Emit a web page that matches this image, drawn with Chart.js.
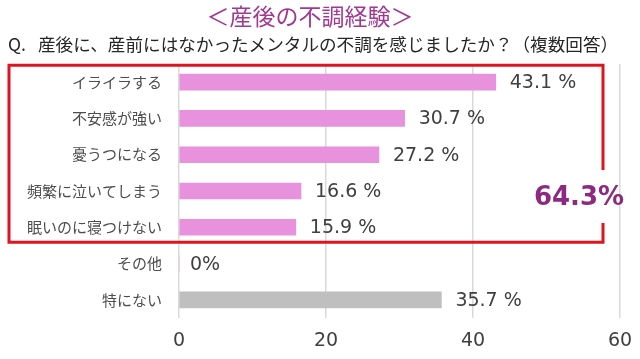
<!DOCTYPE html>
<html><head><meta charset="utf-8">
<script src="https://cdn.jsdelivr.net/npm/chart.js@4"></script>
<style>html,body{margin:0;padding:0;background:#fff}#wrap{width:640px;height:359px;position:relative}</style>
</head><body><div id="wrap"><canvas id="c" width="640" height="359"></canvas></div>
<script>
const titleText = "＜産後の不調経験＞";
const subtitlePrefix = "Q.";
const subtitleText = "産後に、産前にはなかったメンタルの不調を感じましたか？（複数回答）";
const categories = ["イライラする","不安感が強い","憂うつになる","頻繁に泣いてしまう","眠いのに寝つけない","その他","特にない"];
const values = [43.1, 30.7, 27.2, 16.6, 15.9, 0, 35.7];
const valueLabels = ["43.1 %","30.7 %","27.2 %","16.6 %","15.9 %","0%","35.7 %"];
const barColors = ["#e891dd","#e891dd","#e891dd","#e891dd","#e891dd","#e891dd","#bfbfbf"];
const xTicks = [0, 20, 40, 60];
const totalLabel = "64.3%";

const JP = '"Noto Sans CJK JP", "Noto Sans", sans-serif';

const deco = {
  id: 'deco',
  afterDatasetsDraw(chart) {
    const ctx = chart.ctx, x = chart.scales.x, y = chart.scales.y, ca = chart.chartArea;
    ctx.save();
    // value labels
    ctx.font = '19px "DejaVu Sans", sans-serif';
    ctx.fillStyle = '#404040';
    ctx.textBaseline = 'middle';
    ctx.textAlign = 'left';
    values.forEach((v, i) => {
      const off = v === 0 ? 11 : 14;
      ctx.fillText(valueLabels[i], x.getPixelForValue(v) + off, y.getPixelForValue(i) + 1);
    });
    // red box
    const top = y.getPixelForValue(0) - 17;
    const bot = y.getPixelForValue(4) + 15;
    const left = 9;
    const right = ca.right - 17;
    ctx.strokeStyle = '#e0141e';
    ctx.lineWidth = 3;
    ctx.beginPath();
    ctx.moveTo(right, 170);
    ctx.lineTo(right, top);
    ctx.lineTo(left, top);
    ctx.lineTo(left, bot);
    ctx.lineTo(right, bot);
    ctx.lineTo(right, 223);
    ctx.stroke();
    // total label
    ctx.font = 'bold 26px "DejaVu Sans", sans-serif';
    ctx.fillStyle = '#8c2a82';
    ctx.textAlign = 'center';
    ctx.fillText(totalLabel, 579, 198);
    // titles
    ctx.font = '23px ' + JP;
    ctx.fillStyle = '#a23894';
    ctx.textAlign = 'center';
    ctx.fillText(titleText, 310, 16);
    ctx.font = '17.6px ' + JP;
    ctx.fillStyle = '#262626';
    ctx.textAlign = 'left';
    ctx.fillText(subtitlePrefix, 8, 44);
    ctx.fillText(subtitleText, 38, 44);
    ctx.restore();
  }
};

new Chart(document.getElementById('c'), {
  type: 'bar',
  data: {
    labels: categories,
    datasets: [{ data: values, backgroundColor: barColors, barThickness: 16, borderWidth: 0 }]
  },
  options: {
    indexAxis: 'y',
    responsive: false,
    animation: false,
    events: [],
    layout: { padding: { top: 64, right: 20, left: 0, bottom: 0 } },
    plugins: { legend: { display: false }, tooltip: { enabled: false } },
    scales: {
      x: {
        min: 0, max: 60,
        afterBuildTicks(s) { s.ticks = xTicks.map(v => ({ value: v })); },
        afterFit(s) { s.height = 41; s.paddingRight = 0; s.paddingLeft = 0; },
        grid: { color: '#d9d9d9', lineWidth: 1.5, drawTicks: false },
        border: { display: false },
        ticks: { padding: 12, color: '#404040', font: { size: 19, family: '"DejaVu Sans", sans-serif' } }
      },
      y: {
        afterFit(s) { s.width = 179; s.paddingTop = 0; s.paddingBottom = 0; },
        grid: { display: false, drawTicks: false },
        border: { display: false },
        ticks: { padding: 17, color: '#4d4d4d', font: { size: 15, family: JP } }
      }
    }
  },
  plugins: [deco]
});
</script>
</body></html>
